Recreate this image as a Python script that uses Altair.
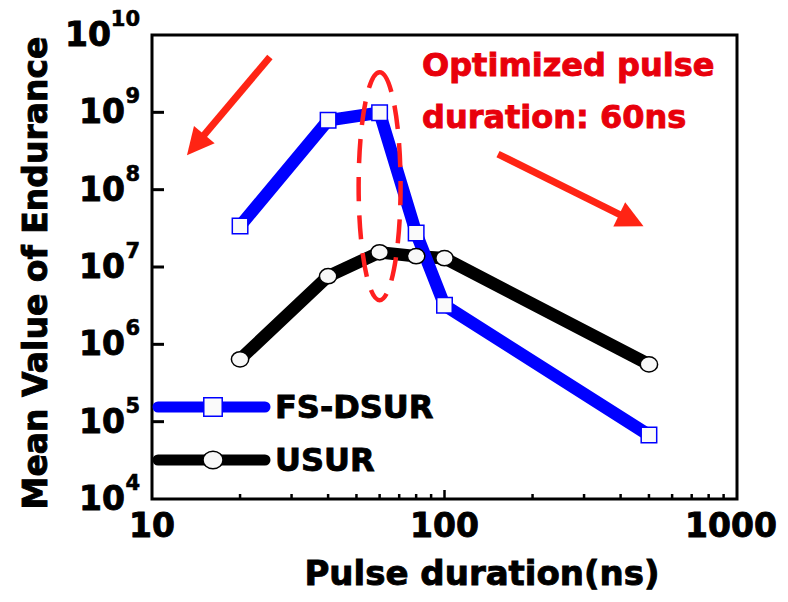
import altair as alt
import pandas as pd

# ---- data ----
pulse_ns = [20, 40, 60, 80, 100, 500]
fs_dsur = [3.4e7, 7.9e8, 9.9e8, 2.75e7, 3.2e6, 6.7e4]
usur = [6.4e5, 7.6e6, 1.55e7, 1.38e7, 1.30e7, 5.5e5]
series_names = ["FS-DSUR", "USUR"]

x_tick_values = [10, 100, 1000]
x_minor_ticks = [20, 30, 40, 50, 60, 70, 80, 90, 200, 300, 400, 500, 600, 700, 800, 900]
y_exponents = [4, 5, 6, 7, 8, 9, 10]

annotation_lines = ["Optimized pulse", "duration: 60ns"]
optimum_ns = [60]
optimum_center = [1.11e8]

# arrows (data coordinates): shaft start -> head center
arrow_x = [25.3, 152.4]
arrow_y = [5.19e9, 2.89e8]
arrow_x2 = [14.1, 435.5]
arrow_y2 = [3.78e8, 4.02e7]
arrow_angle = [220, 116]

# ---- styling ----
W, H = 585, 464
FONT = "DejaVu Sans"
BLUE = "#0000ff"
RED = "#ff2414"
TXT_RED = "#e8000b"
LW = 12.5

xs = alt.Scale(type="log", domain=[10, 1000])
ys = alt.Scale(type="log", domain=[1e4, 1e10])

df = pd.DataFrame({"x": pulse_ns, "fs": fs_dsur, "us": usur})

X = alt.X("x:Q", scale=xs, axis=None)

black_line = alt.Chart(df).mark_line(color="black", strokeWidth=LW, strokeCap="round").encode(
    x=X, y=alt.Y("us:Q", scale=ys, axis=None))
blue_line = alt.Chart(df).mark_line(color=BLUE, strokeWidth=LW, strokeCap="round").encode(
    x=X, y=alt.Y("fs:Q", scale=ys, axis=None))

ELL = "M -1 0 A 1 0.88 0 1 0 1 0 A 1 0.88 0 1 0 -1 0 Z"
circles = alt.Chart(df).mark_point(shape=ELL, size=300, filled=True, fill="#f8f8f8",
                                    stroke="black", strokeWidth=1.5, opacity=1).encode(
    x=X, y=alt.Y("us:Q", scale=ys, axis=None))
squares = alt.Chart(df).mark_point(shape="square", size=240, filled=True, fill="#fafafa",
                                    stroke=BLUE, strokeWidth=1.5, opacity=1).encode(
    x=X, y=alt.Y("fs:Q", scale=ys, axis=None))

# dashed ellipse around the optimum
ell_df = pd.DataFrame({"x": optimum_ns, "y": optimum_center})
ellipse = alt.Chart(ell_df).mark_point(
    shape="M 0 -1 A 0.184 1 0 1 1 0 1 A 0.184 1 0 1 1 0 -1 Z",
    size=228 * 228, filled=False, stroke="#ff1f1f", strokeWidth=4.5,
    strokeDash=[24, 14], opacity=1).encode(
    x=alt.X("x:Q", scale=xs, axis=None), y=alt.Y("y:Q", scale=ys, axis=None))

# arrows
arr_df = pd.DataFrame({"x": arrow_x, "y": arrow_y, "x2": arrow_x2, "y2": arrow_y2, "angle": arrow_angle})
shafts = alt.Chart(arr_df).mark_rule(color=RED, strokeWidth=7).encode(
    x=alt.X("x:Q", scale=xs, axis=None), y=alt.Y("y:Q", scale=ys, axis=None), x2="x2:Q", y2="y2:Q")
heads = alt.Chart(arr_df).mark_point(shape="M 0 -1 L 1 1 L -1 1 Z", size=729, filled=True,
                                     color=RED, opacity=1).encode(
    x=alt.X("x2:Q", scale=xs, axis=None), y=alt.Y("y2:Q", scale=ys, axis=None),
    angle=alt.Angle("angle:Q", scale=None))

TS = 0.9  # text stroke to thicken the bold glyphs


def text_at(t, xpix, ypix, size=32, color="black", align="left", angle=0):
    return alt.Chart(pd.DataFrame({"t": [t]})).mark_text(
        font=FONT, fontWeight="bold", fontSize=size, color=color, stroke=color, strokeWidth=TS,
        align=align, baseline="alphabetic", angle=angle).encode(
        x=alt.value(xpix), y=alt.value(ypix), text="t:N")


ann1 = text_at(annotation_lines[0], 270, 41, 32, TXT_RED)
ann2 = text_at(annotation_lines[1], 270, 93, 32, TXT_RED)

# ticks (inward)
ytick_df = pd.DataFrame({"v": [10.0 ** e for e in y_exponents[1:-1]]})
yticks = alt.Chart(ytick_df).mark_rule(color="black", strokeWidth=3).encode(
    y=alt.Y("v:Q", scale=ys, axis=None), x=alt.value(0), x2=alt.value(12))
xmaj_df = pd.DataFrame({"v": [100]})
xmaj = alt.Chart(xmaj_df).mark_rule(color="black", strokeWidth=2.5).encode(
    x=alt.X("v:Q", scale=xs, axis=None), y=alt.value(H), y2=alt.value(H - 9))
xmin_df = pd.DataFrame({"v": x_minor_ticks})
xmin = alt.Chart(xmin_df).mark_rule(color="black", strokeWidth=2.5).encode(
    x=alt.X("v:Q", scale=xs, axis=None), y=alt.value(H), y2=alt.value(H - 5))

# x tick labels (the last one is nudged left so it stays inside the page)
xl_df = pd.DataFrame({"v": x_tick_values, "t": [str(v) for v in x_tick_values]})


def xlabel_layer(d, dx):
    return alt.Chart(d).mark_text(font=FONT, fontWeight="bold", fontSize=33, color="black",
                                  stroke="black", strokeWidth=TS, dx=dx,
                                  align="center", baseline="alphabetic").encode(
        x=alt.X("v:Q", scale=xs, axis=None), y=alt.value(H + 38), text="t:N")


xlabels = [xlabel_layer(xl_df.iloc[:-1], 0), xlabel_layer(xl_df.iloc[-1:], -6)]

# y tick labels: 10^e
yl1 = pd.DataFrame({"v": [10.0 ** e for e in y_exponents if e < 10],
                    "e": [str(e) for e in y_exponents if e < 10]})
yl2 = pd.DataFrame({"v": [10.0 ** e for e in y_exponents if e >= 10],
                    "e": [str(e) for e in y_exponents if e >= 10]})


def ylabel_layers(d, base_x):
    base = alt.Chart(d).transform_calculate(t="'10'").mark_text(
        font=FONT, fontWeight="bold", fontSize=33, color="black", stroke="black", strokeWidth=TS,
        align="right", baseline="alphabetic", dy=11).encode(
        y=alt.Y("v:Q", scale=ys, axis=None), x=alt.value(base_x), text="t:N")
    exp = alt.Chart(d).mark_text(font=FONT, fontWeight="bold", fontSize=21, color="black",
                                 stroke="black", strokeWidth=0.6,
                                 align="right", baseline="alphabetic", dy=-9).encode(
        y=alt.Y("v:Q", scale=ys, axis=None), x=alt.value(-12), text="e:N")
    return [base, exp]


ylab = ylabel_layers(yl1, -27) + ylabel_layers(yl2, -41)

# axis titles
xt = text_at("Pulse duration(ns)", 330, H + 86, 34, "black", "center")
yt = text_at("Mean Value of Endurance", -105, 238, 33, "black", "center", 270)


# legend
def legend_entry(name, color, shape, size, fill, ypix):
    d = pd.DataFrame({"t": [name]})
    line = alt.Chart(d).mark_rule(color=color, strokeWidth=11, strokeCap="round").encode(
        x=alt.value(6), x2=alt.value(113), y=alt.value(ypix))
    sym = alt.Chart(d).mark_point(shape=shape, size=size, filled=True, fill=fill,
                                  stroke=color, strokeWidth=1.5, opacity=1).encode(
        x=alt.value(61), y=alt.value(ypix))
    txt = alt.Chart(d).mark_text(font=FONT, fontWeight="bold", fontSize=32, align="left",
                                 stroke="black", strokeWidth=TS,
                                 baseline="alphabetic", dy=11).encode(
        x=alt.value(123), y=alt.value(ypix), text="t:N")
    return [line, sym, txt]


leg = legend_entry(series_names[0], BLUE, "square", 340, "#fafafa", 372) + \
      legend_entry(series_names[1], "black", ELL, 400, "#f8f8f8", 425)

layers = [yticks, xmaj, xmin, black_line, blue_line, ellipse, circles, squares,
          shafts, heads, ann1, ann2] + xlabels + ylab + [xt, yt] + leg

chart = alt.layer(*layers).properties(
    width=W, height=H,
    autosize=alt.AutoSizeParams(type="none"),
    padding={"left": 144, "top": 27, "right": 43, "bottom": 95},
).configure_view(stroke="black", strokeWidth=3)

chart.save("out.html", embed_options={"renderer": "svg", "actions": False})
